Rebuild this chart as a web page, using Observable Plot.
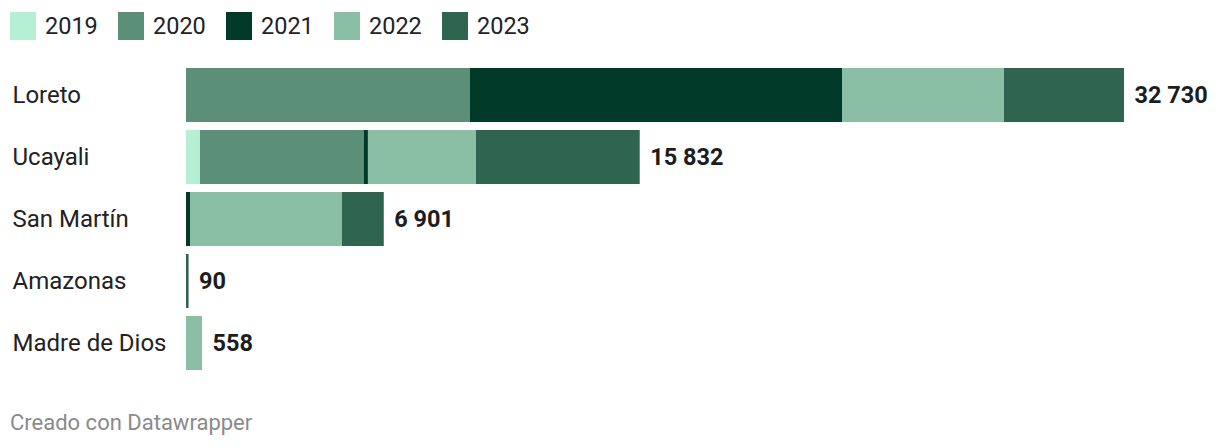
<!DOCTYPE html>
<html><head><meta charset="utf-8">
<script src="https://cdn.jsdelivr.net/npm/d3@7"></script>
<script src="https://cdn.jsdelivr.net/npm/@observablehq/plot@0.6"></script>
<style>
body{margin:0;background:#fff;font-family:Roboto,sans-serif;width:1220px;height:448px;position:relative;overflow:hidden}
#legend{position:absolute;left:10px;top:12px;display:flex;font-size:23.5px;color:#222;z-index:2}
.item{display:flex;align-items:center;width:108px}
.sw{width:26px;height:28px;margin-right:9px}
#chart{position:absolute;left:0;top:0;z-index:1}
#foot{position:absolute;left:10px;top:410px;font-size:22px;color:#8a8a8a;z-index:2}
</style></head><body>
<div id="legend"></div>
<div id="chart"></div>
<div id="foot">Creado con Datawrapper</div>
<script>
const regions = ["Loreto","Ucayali","San Martín","Amazonas","Madre de Dios"];
const years = ["2019","2020","2021","2022","2023"];
const colors = ["#b5f0d5","#5c8f78","#013a28","#8abfa5","#2f6450"];
const v2019 = [0, 488, 0, 0, 0];
const v2020 = [9910, 5710, 0, 0, 0];
const v2021 = [12980, 150, 140, 0, 0];
const v2022 = [5653, 3768, 5303, 0, 558];
const v2023 = [4187, 5716, 1458, 90, 0];
const totals = [32730, 15832, 6901, 90, 558];

const series = [v2019, v2020, v2021, v2022, v2023];
const data = [];
regions.forEach((r, i) => years.forEach((y, j) => {
  if (series[j][i] > 0) data.push({region: r, year: y, value: series[j][i]});
}));
const totData = regions.map((r, i) => ({region: r, total: totals[i]}));
const fmt = v => d3.format(",")(v).replace(/,/g, " ");

const leg = document.getElementById("legend");
years.forEach((y, j) => {
  const it = document.createElement("div"); it.className = "item";
  it.innerHTML = `<div class="sw" style="background:${colors[j]}"></div><span>${y}</span>`;
  leg.appendChild(it);
});

const chart = Plot.plot({
  width: 1220, height: 390,
  marginLeft: 186, marginRight: 96, marginTop: 60, marginBottom: 12,
  style: {fontFamily: "Roboto, sans-serif", background: "transparent"},
  x: {domain: [0, 32730], axis: null},
  y: {domain: regions, padding: 8/62, axis: null},
  color: {domain: years, range: colors},
  marks: [
    Plot.barX(data, Plot.stackX({x: "value", y: "region", fill: "year", order: years})),
    Plot.text(totData, {x: "total", y: "region", text: d => fmt(d.total), dx: 10, textAnchor: "start", fontWeight: "bold", fontSize: 23.5, fill: "#1d1d1d"}),
    Plot.text(regions, {y: d => d, text: d => d, frameAnchor: "left", dx: -174, textAnchor: "start", fontSize: 24, fill: "#222"})
  ]
});
document.getElementById("chart").appendChild(chart);
</script>
</body></html>
